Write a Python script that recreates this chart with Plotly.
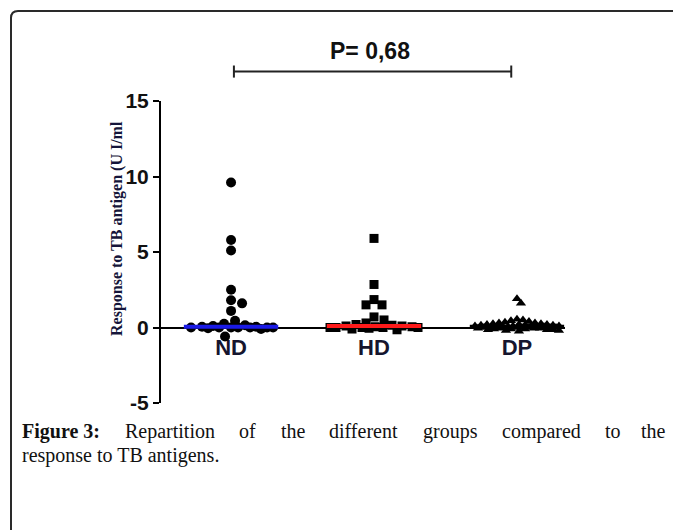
import numpy as np
import plotly.graph_objects as go

# ---------------- data ----------------
categories = ["ND", "HD", "DP"]
nd_values = [9.6, 5.8, 5.1, 2.5, 1.8, 1.6, 1.1, 0.45, 0.25, 0.15, 0.1, 0.05, 0.05,
             0.0, 0.0, 0.0, 0.0, 0.0, 0.0, 0.0, -0.05, -0.1, -0.6]
hd_values = [5.9, 2.85, 1.85, 1.5, 1.5, 0.7, 0.5, 0.3, 0.2, 0.15, 0.1, 0.1, 0.05, 0.05,
             0.0, 0.0, 0.0, 0.0, 0.0, -0.05, -0.1, -0.15]
dp_values = [1.9, 1.6, 0.55, 0.5, 0.45, 0.4, 0.35, 0.3, 0.3, 0.25, 0.25, 0.2, 0.2, 0.2,
             0.15, 0.15, 0.15, 0.1, 0.1, 0.1, 0.1, 0.05, 0.05, 0.05, 0.05, 0.05,
             0.0, 0.0, 0.0, 0.0, 0.0, 0.0, 0.0, -0.05, -0.05, -0.05, -0.05, -0.1, -0.1,
             -0.1, -0.15, -0.15, -0.15, -0.2, -0.2, -0.25]
y_ticks = [-5, 0, 5, 10, 15]
y_ticktext = ["-5", "0", "5", "10", "15"]
p_value_text = "P= 0,68"
y_title = "Response to TB antigen (U I/ml"
caption_line1 = ["Figure 3:", "Repartition", "of", "the", "different", "groups",
                 "compared", "to", "the"]
caption_line2 = "response to TB antigens."

# ---------------- layout constants ----------------
OFF = 8                      # page margin of the html body
W, H = 681 - OFF, 530 - OFF
L, R, T, B = 161 - OFF, 116, 101 - OFF, 127
XR = [-0.49, 2.336]
YR = [-5, 15]
pw, ph = W - L - R, H - T - B
px_per_x = pw / (XR[1] - XR[0])
px_per_y = ph / (YR[1] - YR[0])


def px2x(p):  # screen pixel -> paper x
    return (p - OFF - L) / pw


def px2y(p):  # screen pixel (from top) -> paper y
    return (H - B - (p - OFF)) / ph


def d2x(v):  # data x -> paper x
    return (v - XR[0]) / (XR[1] - XR[0])


def d2y(v):  # data y -> paper y
    return (v - YR[0]) / (YR[1] - YR[0])


def swarm(vals, diam, limit):
    """deterministic beeswarm layout (pixel space), returns x offsets in data units"""
    placed, offs = [], [0.0] * len(vals)
    order = sorted(range(len(vals)), key=lambda i: -vals[i])
    cands = sorted(range(-limit, limit + 1), key=lambda c: (abs(c), -c))
    for i in order:
        yv = vals[i] * px_per_y
        best, best_d = 0, -1
        chosen = None
        for c in cands:
            md = min([((c - a) ** 2 + (yv - b) ** 2) for a, b in placed] or [1e9])
            if md >= diam ** 2:
                chosen = c
                break
            if md > best_d:
                best_d, best = md, c
        if chosen is None:
            chosen = best
        placed.append((chosen, yv))
        offs[i] = chosen / px_per_x
    return offs


fig = go.Figure()

groups = [
    (nd_values, "circle", 10, "#1a1ae6", 10.5, 42),
    (hd_values, "square", 9, "#ff1a1a", 9.5, 44),
    (dp_values, "triangle-up", 9, "#000000", 5.5, 42),
]
for gi, (vals, sym, size, mcol, diam, lim) in enumerate(groups):
    offs = swarm(vals, diam, lim)
    fig.add_trace(go.Scatter(
        x=[gi + o for o in offs], y=vals, mode="markers",
        marker=dict(symbol=sym, size=size, color="black", line=dict(width=0)),
        showlegend=False, hoverinfo="y"))
for gi, (vals, sym, size, mcol, diam, lim) in enumerate(groups):
    med = float(np.median(vals))
    fig.add_trace(go.Scatter(
        x=[gi - 0.33, gi + 0.33], y=[med, med], mode="lines",
        line=dict(color=mcol, width=4), showlegend=False, hoverinfo="skip"))

# significance bracket (paper coords so it is not clipped)
br_y, br_tick = 16.95, 0.4
xa, xb = d2x(0.02), d2x(1.96)
fig.add_shape(type="line", xref="paper", yref="paper", x0=xa, x1=xb,
              y0=d2y(br_y), y1=d2y(br_y), line=dict(color="#222222", width=2))
for xx in (xa, xb):
    fig.add_shape(type="line", xref="paper", yref="paper", x0=xx, x1=xx,
                  y0=d2y(br_y - br_tick), y1=d2y(br_y + br_tick),
                  line=dict(color="#222222", width=2))
fig.add_annotation(x=d2x(0.97), y=d2y(18.3), xref="paper", yref="paper",
                   text=p_value_text, showarrow=False, xanchor="center",
                   yanchor="middle",
                   font=dict(family="Liberation Sans, Arial", size=23,
                             color="#111111", weight="bold"))

# y title
fig.add_annotation(x=px2x(117), y=px2y(229), xref="paper", yref="paper",
                   text=y_title, textangle=-90, showarrow=False,
                   xanchor="center", yanchor="middle",
                   font=dict(family="Liberation Serif, Times New Roman", size=16,
                             color="#15153a", weight="bold"))

# frame (rounded top-left corner)
r = 7
x0, yt = px2x(11), px2y(11)
x1, yb = px2x(720), px2y(580)
fig.add_shape(type="path", xref="paper", yref="paper",
              path=(f"M {x0} {yb} L {x0} {px2y(11 + r)} "
                    f"Q {x0} {yt} {px2x(11 + r)} {yt} L {x1} {yt}"),
              line=dict(color="#2a2a2a", width=2))

# caption (justified first line)
word_x = [20, 123, 237, 279, 327, 421, 500, 603, 668]
cap_font = dict(family="Liberation Serif, Times New Roman", size=20, color="#111111")
for i, w in enumerate(caption_line1):
    f = dict(cap_font)
    if i == 0:
        f["weight"] = "bold"
    last = i == len(caption_line1) - 1
    fig.add_annotation(x=px2x(word_x[i]), y=px2y(431),
                       xref="paper", yref="paper", text=w, showarrow=False,
                       xanchor="right" if last else "left", yanchor="middle", font=f)
fig.add_annotation(x=px2x(20), y=px2y(456), xref="paper", yref="paper",
                   text=caption_line2, showarrow=False, xanchor="left",
                   yanchor="middle", font=cap_font)

fig.update_layout(
    width=W, height=H, margin=dict(l=L, r=R, t=T, b=B, pad=0),
    paper_bgcolor="white", plot_bgcolor="white",
    xaxis=dict(range=XR, tickmode="array", tickvals=[0, 1, 2], ticktext=categories,
               showgrid=False, zeroline=False, showline=True, linecolor="black",
               linewidth=2, ticks="", anchor="free",
               position=d2y(0), layer="below traces",
               tickfont=dict(family="Liberation Sans, Arial", size=22,
                             color="#15152e", weight="bold"), fixedrange=True),
    yaxis=dict(range=YR, tickmode="array", tickvals=y_ticks, ticktext=y_ticktext,
               showgrid=False,
               zeroline=False, showline=True, linecolor="black", linewidth=2,
               ticks="outside", ticklen=6, tickwidth=2, tickcolor="black",
               tickfont=dict(family="Liberation Sans, Arial", size=21,
                             color="#111111", weight="bold"), fixedrange=True),
)

fig.write_html("out.html")
